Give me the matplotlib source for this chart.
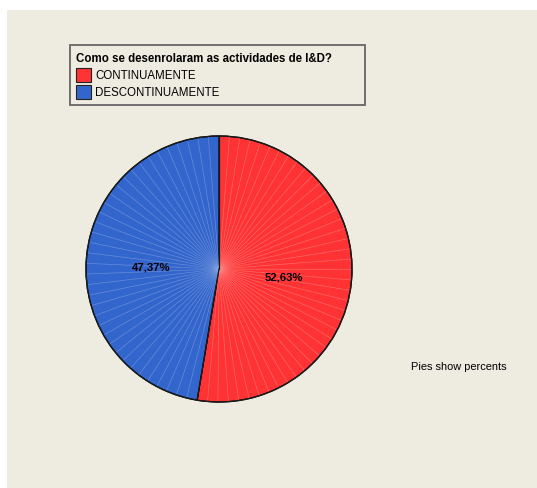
import numpy as np
import matplotlib.pyplot as plt
from matplotlib.patches import Rectangle

# Data
categories = ["CONTINUAMENTE", "DESCONTINUAMENTE"]
percents = [52.63, 47.37]
pct_labels = ["52,63%", "47,37%"]
colors = ["#FF3333", "#3366CC"]
stripe_colors = ["#FF8A8A", "#86A4E0"]
legend_title = "Como se desenrolaram as actividades de I&D?"
footnote = "Pies show percents"

W, H = 537, 489
fig = plt.figure(figsize=(W / 100, H / 100), dpi=100)
fig.patch.set_facecolor("white")
ax = fig.add_axes([0, 0, 1, 1])

font = ["Liberation Sans", "DejaVu Sans"]

# Pie
cx, cy, r = 219, H - 270, 133
wedges, _ = ax.pie(percents, colors=colors, startangle=90, counterclock=False,
                   center=(cx, cy), radius=r, frame=True,
                   wedgeprops=dict(edgecolor="black", linewidth=0.9))
ax.set_xlim(0, W)
ax.set_ylim(0, H)
ax.set_aspect("equal")
ax.axis("off")
for w in wedges:
    w.set_zorder(2)

# Chart background panel
ax.add_patch(Rectangle((7, 0), W - 7, H - 11, facecolor="#EEEBE0", edgecolor="none", zorder=0))

# Light radial stripes inside each slice
start = 90.0
for p, sc in zip(percents, stripe_colors):
    sweep = p / 100 * 360
    n = int(sweep // 4.5)
    angs = start - np.linspace(0, sweep, n + 1)[1:-1]
    for a in angs:
        t = np.deg2rad(a)
        ax.plot([cx, cx + (r - 1) * np.cos(t)], [cy, cy + (r - 1) * np.sin(t)],
                color=sc, lw=0.5, alpha=0.6, zorder=3)
    start -= sweep

# Slice boundaries and outline on top
start = 90.0
for p in percents:
    t = np.deg2rad(start)
    ax.plot([cx, cx + r * np.cos(t)], [cy, cy + r * np.sin(t)], color="#1a1a1a", lw=0.9, zorder=4)
    start -= p / 100 * 360
circ = plt.Circle((cx, cy), r, fill=False, edgecolor="#1a1a1a", lw=1.0, zorder=4)
ax.add_patch(circ)

# Percentage labels
ax.text(284, H - 278, pct_labels[0], ha="center", va="center", fontsize=8.2,
        fontweight="bold", family=font, zorder=5)
ax.text(151, H - 268, pct_labels[1], ha="center", va="center", fontsize=8.2,
        fontweight="bold", family=font, zorder=5)

# Legend box
ax.add_patch(Rectangle((70, H - 106), 295, 60, facecolor="none", edgecolor="#666666",
                       lw=1.3, zorder=5))
ax.text(76, H - 59, legend_title, ha="left", va="center", fontsize=8.3,
        fontweight="bold", family=font, zorder=6)
for i, (lab, col) in enumerate(zip(categories, colors)):
    y0 = H - 83 - i * 17
    ax.add_patch(Rectangle((76, y0), 15, 14, facecolor=col, edgecolor="#222222",
                           lw=0.8, zorder=6))
    ax.text(95, y0 + 7, lab, ha="left", va="center", fontsize=8.3, family=font, zorder=6)

ax.text(459, H - 367, footnote, ha="center", va="center", fontsize=7.9, family=font, zorder=5)

fig.savefig("out.png", dpi=100)
